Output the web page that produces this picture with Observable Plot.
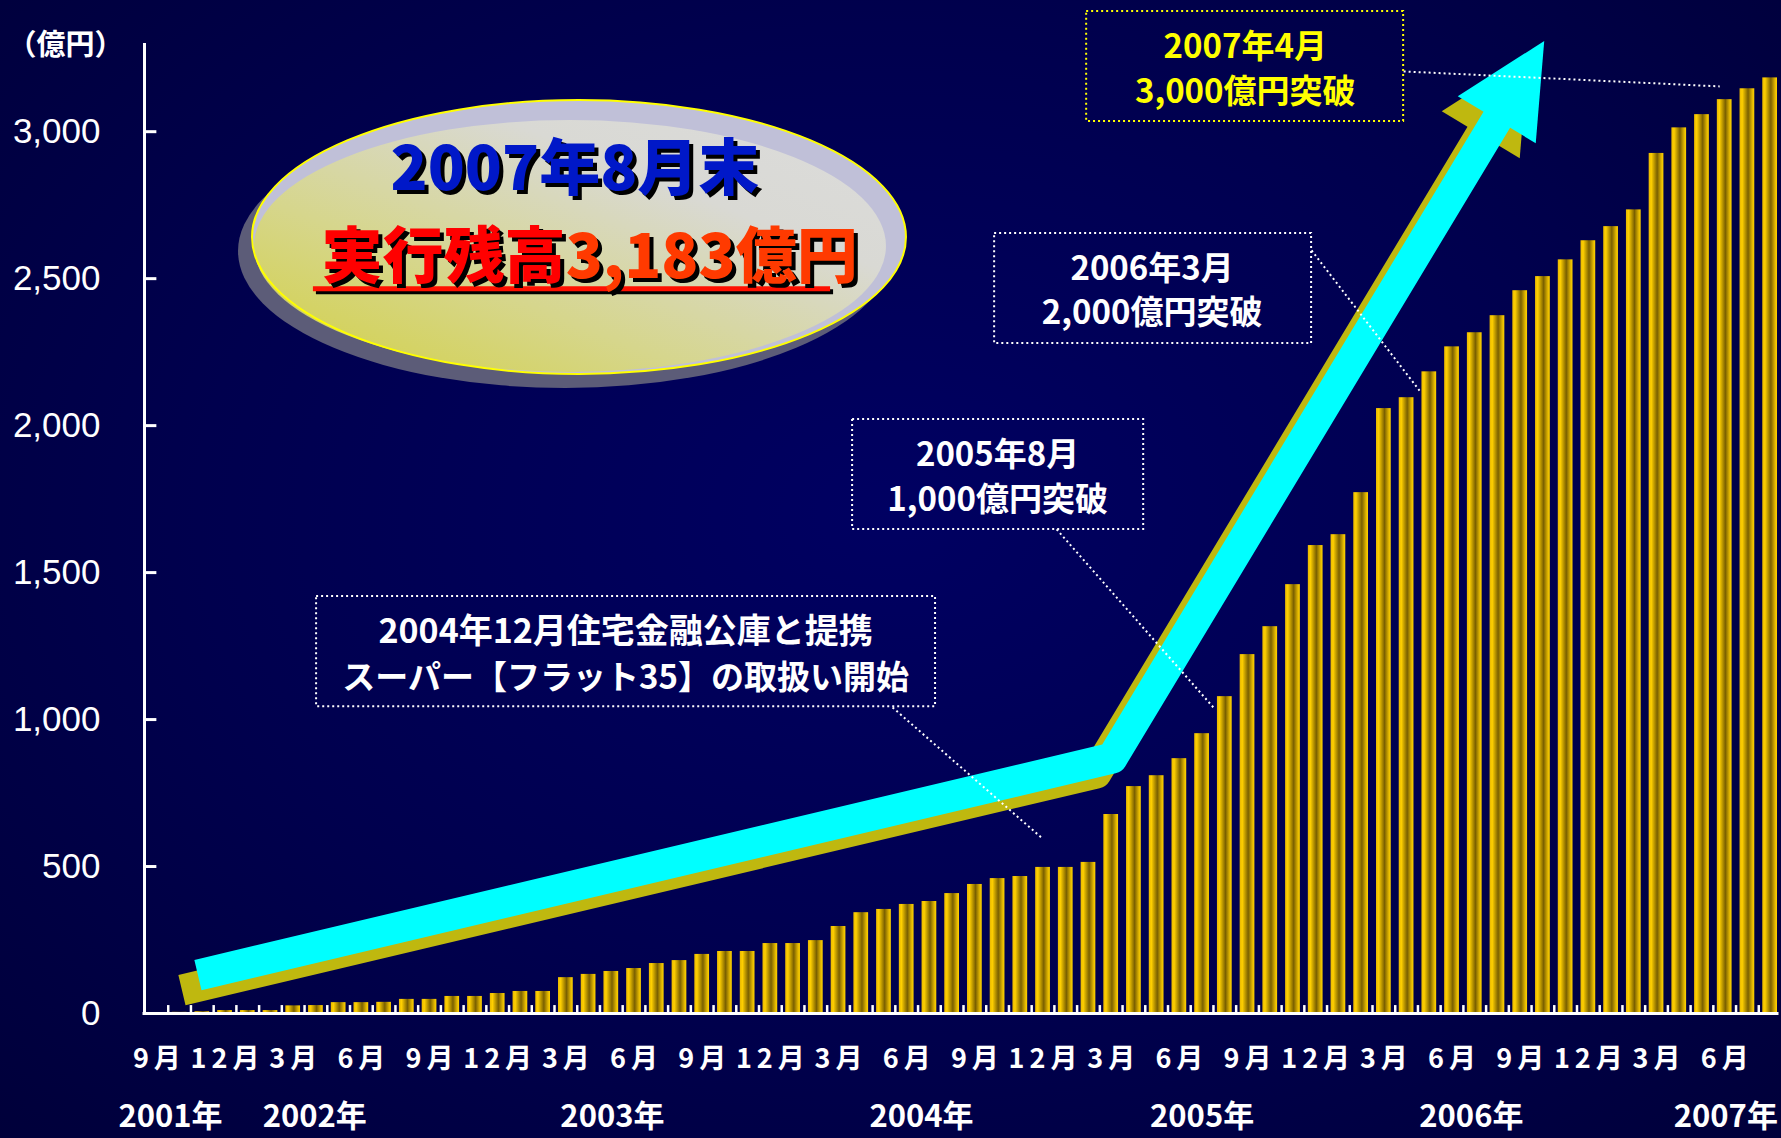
<!DOCTYPE html>
<html><head><meta charset="utf-8">
<script src="https://cdn.jsdelivr.net/npm/d3@7"></script>
<script src="https://cdn.jsdelivr.net/npm/@observablehq/plot@0.6"></script>
<style>
html,body{margin:0;padding:0;width:1781px;height:1138px;overflow:hidden;
background: radial-gradient(ellipse at 50% 45%, #000062 0%, #00004e 55%, #00003a 100%);}
#chart svg{display:block}
</style></head><body>
<svg width="0" height="0" style="position:absolute">
<defs>
<linearGradient id="gold" x1="0" y1="0" x2="1" y2="0">
<stop offset="0%" stop-color="#e8b800"/>
<stop offset="18%" stop-color="#ffd000"/>
<stop offset="58%" stop-color="#7a6000"/>
<stop offset="88%" stop-color="#e6ba00"/>
<stop offset="100%" stop-color="#ffd400"/>
</linearGradient>
<linearGradient id="ellFill" x1="0" y1="1" x2="1" y2="0">
<stop offset="0%" stop-color="#d2d040"/>
<stop offset="35%" stop-color="#d6d68c"/>
<stop offset="70%" stop-color="#d9d9d4"/>
<stop offset="100%" stop-color="#dcdcdc"/>
</linearGradient>
</defs></svg>
<div id="chart"></div>
<script>
// ---- data ----
const months = [
"2001/09","2001/10","2001/11","2001/12",
"2002/01","2002/02","2002/03","2002/04","2002/05","2002/06","2002/07","2002/08","2002/09","2002/10","2002/11","2002/12",
"2003/01","2003/02","2003/03","2003/04","2003/05","2003/06","2003/07","2003/08","2003/09","2003/10","2003/11","2003/12",
"2004/01","2004/02","2004/03","2004/04","2004/05","2004/06","2004/07","2004/08","2004/09","2004/10","2004/11","2004/12",
"2005/01","2005/02","2005/03","2005/04","2005/05","2005/06","2005/07","2005/08","2005/09","2005/10","2005/11","2005/12",
"2006/01","2006/02","2006/03","2006/04","2006/05","2006/06","2006/07","2006/08","2006/09","2006/10","2006/11","2006/12",
"2007/01","2007/02","2007/03","2007/04","2007/05","2007/06","2007/07","2007/08"];
const balance = [
2,4,6,10,
10,10,26,27,37,37,38,48,48,58,58,68,
75,75,122,133,143,153,170,180,201,211,211,238,
238,248,296,343,354,371,381,408,439,459,466,497,
497,514,677,772,809,867,952,1078,1221,1316,1459,1592,
1629,1772,2058,2095,2183,2268,2316,2374,2459,2507,2564,2629,
2677,2734,2926,3013,3058,3109,3146,3183];
const monthTickIndex = [0,3,6,9,12,15,18,21,24,27,30,33,36,39,42,45,48,51,54,57,60,63,66,69];
const monthTickLabels = ["9月","12月","3月","6月","9月","12月","3月","6月","9月","12月","3月","6月",
"9月","12月","3月","6月","9月","12月","3月","6月","9月","12月","3月","6月"];
const yearLabels = ["2001年","2002年","2003年","2004年","2005年","2006年","2007年"];
const yearLabelPos = [1.1, 7.45, 20.55, 34.15, 46.5, 58.35, 69.55];
const yTicks = [0,500,1000,1500,2000,2500,3000];
const yUnit = "（億円）";

// annotations (positions in month-index / 億円 units)
const boxes = [
  {x1: 7.53, x2: 34.77, y1: 1044, y2: 1419, color: "white"},
  {x1: 31.12, x2: 43.93, y1: 1647, y2: 2021, color: "white"},
  {x1: 37.37, x2: 51.32, y1: 2279, y2: 2654, color: "white"},
  {x1: 41.42, x2: 55.37, y1: 3035, y2: 3409, color: "#ffff00"}];
const boxTexts = [
  {x: 21.13, y: 1298, text: "2004年12月住宅金融公庫と提携", color: "white", size: 34},
  {x: 21.13, y: 1141, text: "スーパー【フラット35】の取扱い開始", color: "white", size: 33},
  {x: 37.5, y: 1898, text: "2005年8月", color: "white", size: 33},
  {x: 37.5, y: 1745, text: "1,000億円突破", color: "white", size: 33},
  {x: 44.3, y: 2531, text: "2006年3月", color: "white", size: 33},
  {x: 44.3, y: 2381, text: "2,000億円突破", color: "white", size: 33},
  {x: 48.4, y: 3286, text: "2007年4月", color: "#ffff00", size: 33},
  {x: 48.4, y: 3133, text: "3,000億円突破", color: "#ffff00", size: 33}];
const leaders = [
  {x1: 32.88, y1: 1041, x2: 39.48, y2: 595},
  {x1: 40.1, y1: 1647, x2: 47.0, y2: 1041},
  {x1: 51.32, y1: 2596, x2: 56.07, y2: 2119},
  {x1: 55.37, y1: 3205, x2: 69.28, y2: 3154}];
const arrowPts = [[2.33, 129], [42.56, 867], [61.58, 3307]];
const ellipseBox = {x1: 4.71, x2: 33.49, yTop: 3106, yBottom: 2174};
const headline = {x: 18.9, y: 2868, text: "2007年8月末"};
const totalLeft = {x: 18.49, y: 2569, text: "実行残高"};
const totalRight = {x: 18.49, y: 2569, text: "3,183億円"};
const underline = {x1: 7.39, x2: 30.15, y: 2466};

const NS = "http://www.w3.org/2000/svg";
function el(tag, attrs) {
  const e = document.createElementNS(NS, tag);
  for (const k in attrs) e.setAttribute(k, attrs[k]);
  return e;
}

function arrowMark(color, off) {
  return (index, scales) => {
    const P = arrowPts.map(([m, v]) => [scales.x(m) + off[0], scales.y(v) + off[1]]);
    const [s, b, t] = P;
    const dx = t[0] - b[0], dy = t[1] - b[1], L = Math.hypot(dx, dy);
    const u = [dx / L, dy / L], n = [-u[1], u[0]];
    const headLen = 92, headHalf = 45.5;
    const base = [t[0] - headLen * u[0], t[1] - headLen * u[1]];
    const g = el("g", {});
    g.appendChild(el("path", {
      d: `M${s[0]},${s[1]}L${b[0]},${b[1]}L${base[0] + 3 * u[0]},${base[1] + 3 * u[1]}`,
      fill: "none", stroke: color, "stroke-width": 31, "stroke-linejoin": "round", "stroke-linecap": "butt"}));
    g.appendChild(el("path", {
      d: `M${t[0]},${t[1]}L${base[0] + headHalf * n[0]},${base[1] + headHalf * n[1]}L${base[0] - headHalf * n[0]},${base[1] - headHalf * n[1]}Z`,
      fill: color}));
    return g;
  };
}

function ellipseMark(index, scales) {
  const x1 = scales.x(ellipseBox.x1), x2 = scales.x(ellipseBox.x2);
  const yt = scales.y(ellipseBox.yTop), yb = scales.y(ellipseBox.yBottom);
  const cx = (x1 + x2) / 2, cy = (yt + yb) / 2, rx = (x2 - x1) / 2, ry = (yb - yt) / 2;
  const g = el("g", {});
  g.appendChild(el("ellipse", {cx: cx - 14, cy: cy + 14, rx, ry, fill: "#5c5c78"}));
  g.appendChild(el("ellipse", {cx, cy, rx, ry, fill: "#c0c0d8"}));
  g.appendChild(el("ellipse", {cx: cx - 9, cy: cy + 9, rx: rx - 11, ry: ry - 11, fill: "url(#ellFill)"}));
  g.appendChild(el("ellipse", {cx, cy, rx, ry, fill: "none", stroke: "#ffff00", "stroke-width": 2}));
  return g;
}

const JP = "'Noto Sans CJK JP', 'Noto Sans', sans-serif";

const plot = Plot.plot({
  width: 1781, height: 1138,
  marginLeft: 145, marginRight: 0, marginTop: 43, marginBottom: 125,
  x: {domain: [0, 72], axis: null},
  y: {domain: [0, 3300], axis: null},
  style: {background: "transparent", fontFamily: JP, overflow: "visible"},
  marks: [
    Plot.rect(balance, {x1: (d, i) => i, x2: (d, i) => i + 1, y1: 0, y2: d => d,
      insetLeft: 4, insetRight: 4, fill: "url(#gold)", title: (d, i) => `${months[i]}: ${d}億円`}),
    Plot.ruleX(d3.range(1, 72), {x: d => d, y1: 0, y2: 27, stroke: "white", strokeWidth: 2.5}),
    Plot.ruleY(yTicks.slice(1), {y: d => d, x1: 0, x2: 0.5, stroke: "white", strokeWidth: 3}),
    Plot.ruleX([0], {y1: 0, y2: 3300, stroke: "white", strokeWidth: 3, dx: -1}),
    Plot.ruleY([0], {x1: 0, x2: 72, stroke: "white", strokeWidth: 3, dx: -2.5}),
    Plot.text(yTicks, {x: 0, y: d => d, text: d => d3.format(",")(d), dx: -45, textAnchor: "end",
      fill: "white", fontSize: 35, fontFamily: "'Liberation Sans', Arial, sans-serif"}),
    Plot.text([yUnit], {x: 0, y: 3300, text: d => d, dx: -22, dy: 2, textAnchor: "end",
      fill: "white", fontSize: 29, fontWeight: "bold", fontFamily: JP}),
    Plot.text(monthTickLabels, {x: (d, i) => monthTickIndex[i] + 0.5, y: 0, text: d => d, dy: 46, dx: 2.5,
      fill: "white", fontSize: 27, fontWeight: "bold"}),
    Plot.text(yearLabels, {x: (d, i) => yearLabelPos[i], y: 0, text: d => d, dy: 104,
      fill: "white", fontSize: 31, fontWeight: "bold"}),
    arrowMark("#bfb80f", [-16, 15]),
    arrowMark("#00ffff", [0, 0]),
    ellipseMark,
    Plot.ruleY([underline], {x1: "x1", x2: "x2", y: "y", stroke: "black", strokeWidth: 5, dx: 3, dy: 3}),
    Plot.ruleY([underline], {x1: "x1", x2: "x2", y: "y", stroke: "#ff1000", strokeWidth: 5}),
    Plot.text([headline], {x: "x", y: "y", text: "text", fill: "#0018c8", fontSize: 61, fontWeight: 900}),
    Plot.text([totalLeft], {x: "x", y: "y", text: "text", fill: "#ff0000", fontSize: 61, fontWeight: 900, textAnchor: "end"}),
    Plot.text([totalRight], {x: "x", y: "y", text: "text", fill: "#ff3a00", fontSize: 61, fontWeight: 900, textAnchor: "start"}),
    Plot.link(leaders, {x1: "x1", y1: "y1", x2: "x2", y2: "y2", stroke: "white", strokeWidth: 2, strokeDasharray: "2,3"}),
    Plot.rect(boxes, {x1: "x1", x2: "x2", y1: "y1", y2: "y2", fill: "none", stroke: d => d.color, strokeWidth: 2, strokeDasharray: "2,3"}),
    Plot.text(boxTexts, {x: "x", y: "y", text: "text", fill: d => d.color, fontSize: d => d.size, fontWeight: "bold"})
  ]
});
// drop-shadow filter inside the chart svg
const defs = el("defs", {});
const filt = el("filter", {id: "drop", x: "-20%", y: "-50%", width: "140%", height: "200%", "color-interpolation-filters": "sRGB"});
filt.appendChild(el("feOffset", {in: "SourceAlpha", dx: 4, dy: 4, result: "off"}));
filt.appendChild(el("feFlood", {"flood-color": "#000000", result: "blk"}));
filt.appendChild(el("feComposite", {in: "blk", in2: "off", operator: "in", result: "sh"}));
const merge = el("feMerge", {});
merge.appendChild(el("feMergeNode", {in: "sh"}));
merge.appendChild(el("feMergeNode", {in: "SourceGraphic"}));
filt.appendChild(merge);
defs.appendChild(filt);
plot.insertBefore(defs, plot.firstChild);
const shadowTexts = [headline.text, totalLeft.text, totalRight.text];
d3.select(plot).selectAll("text")
  .filter(function() { return shadowTexts.includes(this.textContent); })
  .attr("filter", "url(#drop)");
d3.select(plot).selectAll("text")
  .filter(function() { return monthTickLabels.includes(this.textContent); })
  .style("letter-spacing", "5px");
document.getElementById("chart").appendChild(plot);
</script>
</body></html>
